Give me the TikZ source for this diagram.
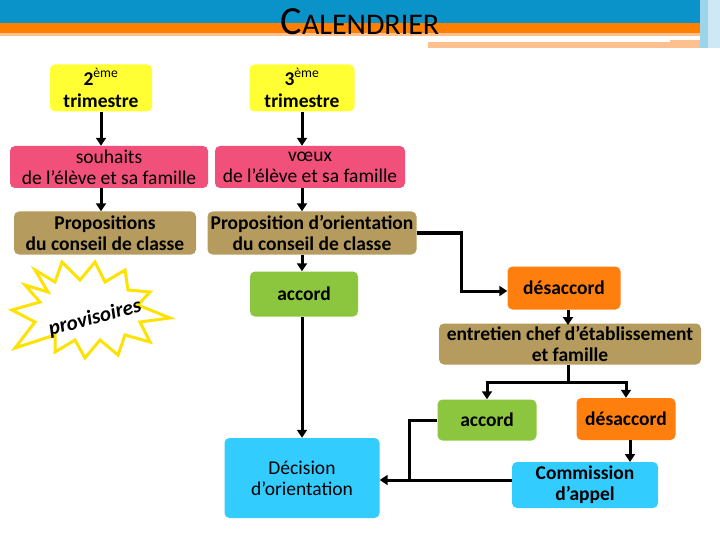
\documentclass[tikz,border=0pt]{standalone}
\usepackage{fontspec}
\setmainfont{Carlito}
\usetikzlibrary{shapes.symbols,arrows.meta}
\definecolor{cyel}{HTML}{FFFF33}
\definecolor{cpink}{HTML}{F0507A}
\definecolor{ctan}{HTML}{B59B5E}
\definecolor{cgreen}{HTML}{8CC63F}
\definecolor{corange}{HTML}{FF7F0E}
\definecolor{cblue}{HTML}{33CCFF}
\definecolor{hblue}{HTML}{0A93C8}
\definecolor{horange}{HTML}{FF7F00}
\definecolor{hlight}{HTML}{FFC090}
\tikzset{
 bx/.style={rounded corners=5pt,align=center,font=\fontsize{19.5}{21}\selectfont\bfseries,inner sep=0pt},
 ar/.style={line width=3pt,-{Triangle[length=8pt,width=10pt]}},
 ln/.style={line width=3pt}
}
\begin{document}
\begin{tikzpicture}[x=1pt,y=-1pt]
\useasboundingbox (0,0) rectangle (720,540);
% header
\fill[hblue] (0,0) rectangle (700,23);
\fill[horange] (0,23) rectangle (700,33);
\fill[hlight] (0,33) rectangle (700,36);
\fill[hlight] (428,40) rectangle (700,48);
\fill[white] (428,40) rectangle (670,42);
\fill[hblue!40] (700,0) rectangle (720,48);
\fill[hblue!20] (708,0) rectangle (720,48);
\node[anchor=base] (title) at (360,35) {\fontsize{40}{42}\selectfont C\fontsize{30}{32}\selectfont ALENDRIER};
% boxes
\node[bx,fill=cyel,minimum width=102pt,minimum height=47pt] (t2) at (101,88) {2\textsuperscript{\mdseries ème}\\[1pt]trimestre};
\node[bx,fill=cyel,minimum width=105pt,minimum height=47pt] (t3) at (302,88) {3\textsuperscript{\mdseries ème}\\[1pt]trimestre};
\node[bx,fill=cpink,minimum width=198pt,minimum height=42pt,font=\fontsize{19.5}{21}\selectfont] (sou) at (109,167) {souhaits\\de l’élève et sa famille};
\node[bx,fill=cpink,minimum width=190pt,minimum height=42pt,font=\fontsize{19.5}{21}\selectfont] (voe) at (310,167) {vœux\\de l’élève et sa famille};
\node[bx,fill=ctan,minimum width=182pt,minimum height=43pt] (p1) at (105,233) {Propositions\\du conseil de classe};
\node[bx,fill=ctan,minimum width=209pt,minimum height=43pt] (p2) at (312,233) {Proposition d’orientation\\du conseil de classe};
\node[bx,fill=cgreen,minimum width=108pt,minimum height=45pt] (acc) at (304,294) {accord};
\node[bx,fill=corange,minimum width=113pt,minimum height=43pt] (des) at (564,288) {désaccord};
\node[bx,fill=ctan,minimum width=262pt,minimum height=41pt] (ent) at (570,344) {entretien chef d’établissement\\et famille};
\node[bx,fill=cgreen,minimum width=99pt,minimum height=41pt] (acc2) at (487,420) {accord};
\node[bx,fill=corange,minimum width=99pt,minimum height=42pt] (des2) at (626,419) {désaccord};
\node[bx,fill=cblue,minimum width=155pt,minimum height=80pt,font=\fontsize{19.5}{21}\selectfont] (dec) at (302,478) {Décision\\d’orientation};
\node[bx,fill=cblue,minimum width=146pt,minimum height=46pt] (com) at (585,485) {Commission\\d’appel};
% starburst
\draw[yellow!85!orange,line width=3pt,line join=miter]
 (35,270) -- (55,282) -- (62,262) -- (80,280) -- (95,262) -- (105,282) -- (125,270) -- (128,290)
 -- (150,292) -- (138,305) -- (170,318) -- (140,322) -- (150,342) -- (125,335) -- (118,355)
 -- (100,340) -- (85,358) -- (75,340) -- (55,352) -- (55,335) -- (15,348) -- (35,322)
 -- (12,310) -- (40,302) -- (25,285) -- (48,292) -- cycle;
\node[rotate=15,font=\fontsize{21}{22}\selectfont\bfseries\itshape] (prov) at (95,318) {provisoires};
% arrows
\draw[ar] (t2) -- (t2|-sou.north);
\draw[ar] (t3) -- (t3|-voe.north);
\draw[ar] (sou.south-|t2) -- (t2|-p1.north);
\draw[ar] (voe.south-|t3) -- (t3|-p2.north);
\draw[ar] (p2.south-|t3) -- (t3|-acc.north);
\draw[ar] (p2.east) -| (461,291) -- (des.west|-0,291);
\draw[ar] (des.south-|568,0) -- (568,325);
\draw[ln] (ent.south-|568,0) -- (568,382);
\draw[ar] (487,382) -- (acc2.north);
\draw[ar] (626,382) -- (des2.north);
\draw[ln] (485.5,382) -- (627.5,382);
\draw[ar] (acc.south-|t3) -- (t3|-dec.north);
\draw[ar] (des2.south-|630,0) -- (630,462);
\draw[ln] (acc2.west) -| (409,480);
\draw[ar] (com.west|-0,480) -- (dec.east|-0,480);
\end{tikzpicture}
\end{document}
